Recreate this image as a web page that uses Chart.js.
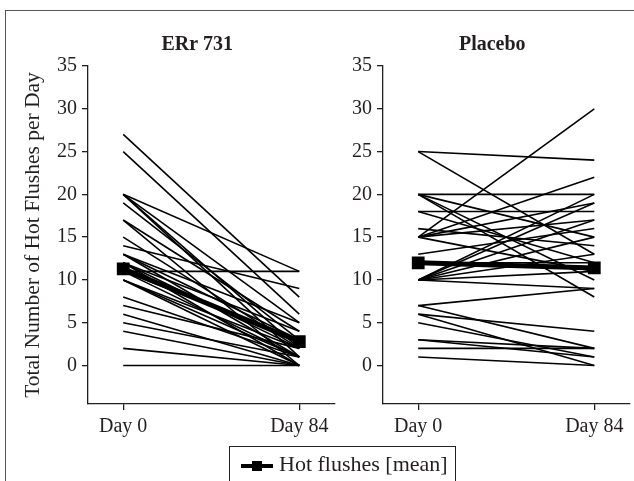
<!DOCTYPE html>
<html lang="en">
<head>
  <meta charset="UTF-8">
  <title>Hot flushes per day</title>
  <script src="https://cdn.jsdelivr.net/npm/chart.js"></script>
  <style>
    body {
      margin: 0;
      background: #fff;
      overflow: hidden;
    }
    .figure {
      position: relative;
      width: 634px;
      height: 481px;
      overflow: hidden;
    }
    .frame {
      position: absolute;
      left: 5px;
      top: 10px;
      width: 700px;
      height: 600px;
      border-left: 1px solid #555;
      border-top: 1px solid #555;
    }
    canvas {
      position: absolute;
      top: 0;
    }
    #erChart { left: 0; }
    #plChart { left: 330px; }
    .legend {
      position: absolute;
      left: 229px;
      top: 446px;
      width: 214px;
      height: 44px;
      padding: 5px 0 0 11px;
      border: 1.5px solid #222;
      font: 22px "Liberation Serif", serif;
      line-height: 24px;
      color: #231f20;
      white-space: nowrap;
    }
    .legend .sym {
      display: inline-block;
      position: relative;
      width: 32px;
      height: 4px;
      margin-right: 6px;
      vertical-align: middle;
      background: #000;
    }
    .legend .sym i {
      position: absolute;
      left: 11px;
      top: -3px;
      width: 10px;
      height: 10px;
      background: #000;
    }
  </style>
</head>
<body>
<div class="figure">
  <div class="frame"></div>
  <canvas id="erChart" width="345" height="481"></canvas>
  <canvas id="plChart" width="310" height="481"></canvas>
  <div class="legend"><span class="sym"><i></i></span>Hot flushes [mean]</div>
</div>

<script>
  // 数据：每位患者第0天和第84天的潮热次数
  const days = ['Day 0', 'Day 84'];
  const yTicks = [0, 5, 10, 15, 20, 25, 30, 35];

  const erDay0  = [27, 25, 20, 20, 20, 20, 19, 17, 17, 15, 14, 13, 13, 13, 12, 12, 12, 11, 11, 11, 10, 10, 10, 8, 7, 6, 5, 4, 2, 0];
  const erDay84 = [ 8,  6, 11,  5,  2,  1,  3,  4,  0,  2,  9,  3,  5,  1,  2,  4,  0, 11,  3,  1,  2,  0,  1, 1, 2, 0, 1, 0, 0, 0];
  const erMean  = [11.3, 2.8];

  const plDay0  = [25, 25, 20, 20, 20, 20, 18, 18, 16, 15, 15, 15, 15, 15, 13, 12, 10, 10, 10, 10, 10, 10, 10, 7, 7, 6, 5, 3, 2, 1, 6, 3];
  const plDay84 = [24, 13, 20, 15, 10,  8, 18, 12, 14, 30, 22, 19, 17, 11, 16, 12, 20, 19, 17, 15, 13, 11,  9, 9, 2, 4, 1, 2, 2, 0, 0, 1];
  const plMean  = [12.0, 11.4];

  const ink = '#231f20';
  const serif = '"Liberation Serif", serif';

  // 面板标题
  const panelTitle = {
    id: 'panelTitle',
    afterDraw(chart, args, opts) {
      const { ctx, chartArea } = chart;
      ctx.save();
      ctx.font = 'bold 20px ' + serif;
      ctx.fillStyle = ink;
      ctx.textAlign = 'center';
      ctx.textBaseline = 'middle';
      ctx.fillText(opts.text, (chartArea.left + chartArea.right) / 2 - 14, chartArea.top - 21);
      ctx.restore();
    }
  };

  function makeSets(d0, d84, mean) {
    const sets = d0.map((v, i) => ({
      data: [{ x: 0, y: v }, { x: 1, y: d84[i] }],
      borderColor: '#000',
      borderWidth: 1.6,
      pointRadius: 0,
      order: 1
    }));
    sets.push({
      label: 'Hot flushes [mean]',
      data: mean.map((v, i) => ({ x: i, y: v })),
      borderColor: '#000',
      backgroundColor: '#000',
      borderWidth: 5,
      pointStyle: 'rect',
      pointRadius: 5.5,
      order: 0
    });
    return sets;
  }

  function makeChart(id, title, d0, d84, mean, yWidth, showYTitle) {
    const ctx = document.getElementById(id).getContext('2d');
    return new Chart(ctx, {
      type: 'line',
      data: { datasets: makeSets(d0, d84, mean) },
      plugins: [panelTitle],
      options: {
        responsive: false,
        animation: false,
        layout: { padding: { top: 66, right: 10, bottom: 0, left: 0 } },
        plugins: {
          legend: { display: false },
          tooltip: { enabled: false },
          panelTitle: { text: title }
        },
        scales: {
          x: {
            type: 'linear',
            min: -0.2,
            max: 1.2,
            afterBuildTicks: axis => { axis.ticks = days.map((d, i) => ({ value: i })); },
            afterFit: scale => { scale.height = 77; },
            ticks: {
              callback: (v, i) => days[i],
              color: ink,
              font: { family: serif, size: 20 },
              padding: 5,
              maxRotation: 0
            },
            grid: { drawOnChartArea: false, tickLength: 6, color: ink, lineWidth: 1.3 },
            border: { display: true, color: ink, width: 1.3 }
          },
          y: {
            min: -4.5,
            max: 35,
            afterBuildTicks: axis => { axis.ticks = yTicks.map(v => ({ value: v })); },
            afterFit: scale => { scale.width = yWidth; },
            ticks: {
              color: ink,
              font: { family: serif, size: 20 },
              padding: 5
            },
            grid: { drawOnChartArea: false, tickLength: 6, color: ink, lineWidth: 1.3 },
            border: { display: true, color: ink, width: 1.3 },
            title: {
              display: showYTitle,
              text: 'Total Number of Hot Flushes per Day',
              color: ink,
              font: { family: serif, size: 21.5 },
              padding: { top: 20, bottom: 0 }
            }
          }
        }
      }
    });
  }

  makeChart('erChart', 'ERr 731', erDay0, erDay84, erMean, 88, true);
  makeChart('plChart', 'Placebo', plDay0, plDay84, plMean, 53, false);
</script>
</body>
</html>
